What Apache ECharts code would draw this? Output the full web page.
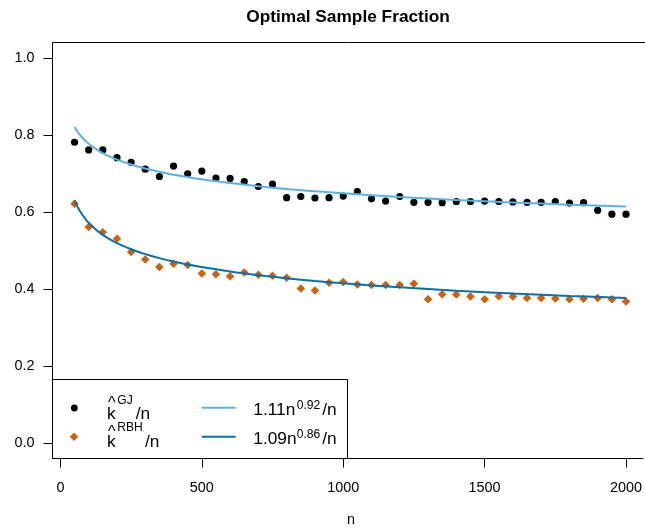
<!DOCTYPE html>
<html>
<head>
<meta charset="utf-8">
<script src="https://cdn.jsdelivr.net/npm/echarts@6/dist/echarts.min.js"></script>
<style>html,body{margin:0;padding:0;background:#fff;}#c{width:645px;height:531px;}</style>
</head>
<body>
<div id="c"></div>
<script>
// ---- data ----
const nValues = [50,100,150,200,250,300,350,400,450,500,550,600,650,700,750,800,850,900,950,1000,
  1050,1100,1150,1200,1250,1300,1350,1400,1450,1500,1550,1600,1650,1700,1750,1800,1850,1900,1950,2000];
const gjValues = [0.782,0.762,0.762,0.742,0.730,0.712,0.693,0.720,0.700,0.707,
  0.689,0.688,0.680,0.667,0.673,0.638,0.641,0.637,0.638,0.642,
  0.654,0.635,0.629,0.641,0.626,0.626,0.625,0.628,0.628,0.629,
  0.628,0.627,0.626,0.626,0.628,0.624,0.625,0.605,0.595,0.595];
const rbhValues = [0.622,0.562,0.548,0.531,0.497,0.477,0.458,0.466,0.463,0.441,
  0.439,0.434,0.4435,0.4375,0.435,0.430,0.402,0.397,0.417,0.419,
  0.412,0.411,0.411,0.411,0.414,0.374,0.387,0.386,0.381,0.374,
  0.382,0.381,0.377,0.377,0.376,0.374,0.375,0.377,0.374,0.368];
// fitted curves, values
const fitN = [50,60,70,80,90,100,125,150,175,200,250,300,350,400,500,600,700,800,900,1000,1200,1400,1600,1800,2000];
const fitGJ = [0.8218,0.8100,0.8003,0.7919,0.7846,0.7781,0.7646,0.7537,0.7446,0.7368,0.7240,0.7137,0.7051,
  0.6977,0.6856,0.6758,0.6676,0.6607,0.6546,0.6492,0.6399,0.6322,0.6256,0.6198,0.6147];
const fitRBH = [0.6309,0.6151,0.6020,0.5909,0.5812,0.5727,0.5552,0.5412,0.5297,0.5199,0.5040,0.4913,0.4809,
  0.4720,0.4575,0.4460,0.4365,0.4285,0.4215,0.4153,0.4049,0.3962,0.3889,0.3826,0.3770];
const xTicks = [0,500,1000,1500,2000];
const yTicks = [0,0.2,0.4,0.6,0.8,1.0];

const FONT = '"Liberation Sans", Arial, Helvetica, sans-serif';
const C_GJ = '#000000', C_RBH = '#D55E00', C_FGJ = '#56B4E9', C_FRBH = '#0072B2';

const zip = (a, b) => a.map((v, i) => [v, b[i]]);

function txt(text, x, y, size, opts) {
  opts = opts || {};
  return {
    type: 'text', z: 101,
    style: {
      text: text, x: x, y: y,
      font: (opts.weight || 'normal') + ' ' + size + 'px ' + FONT,
      fill: '#000',
      textAlign: opts.align || 'left',
      textVerticalAlign: 'middle'
    }
  };
}

const L = 17.3, S = 12.1; // legend font sizes (normal, superscript)

const chart = echarts.init(document.getElementById('c'), null, {renderer: 'canvas'});
chart.setOption({
  animation: false,
  backgroundColor: '#fff',
  grid: {left: 52.5, right: 0, top: 43, bottom: 72.5, show: false},
  xAxis: {
    type: 'value', min: -28, max: 2060,
    axisLine: {show: true, onZero: false, lineStyle: {color: '#000', width: 1}},
    splitLine: {show: false},
    axisTick: {show: true, inside: false, length: 9, customValues: xTicks, lineStyle: {color: '#000', width: 1}},
    axisLabel: {customValues: xTicks, fontSize: 14.4, fontFamily: FONT, color: '#000', margin: 22.5,
                formatter: v => String(v)}
  },
  yAxis: {
    type: 'value', min: -0.04, max: 1.04,
    axisLine: {show: true, onZero: false, lineStyle: {color: '#000', width: 1}},
    splitLine: {show: false},
    axisTick: {show: true, inside: false, length: 9, customValues: yTicks, lineStyle: {color: '#000', width: 1}},
    axisLabel: {customValues: yTicks, fontSize: 14.4, fontFamily: FONT, color: '#000', margin: 18,
                formatter: v => v.toFixed(1)}
  },
  series: [
    {type: 'scatter', data: zip(nValues, gjValues), symbol: 'circle', symbolSize: 7.2,
     itemStyle: {color: C_GJ, opacity: 1}, z: 2},
    {type: 'scatter', data: zip(nValues, rbhValues), symbol: 'diamond', symbolSize: 8.5,
     itemStyle: {color: C_RBH, opacity: 1}, z: 2},
    {type: 'line', data: zip(fitN, fitGJ), showSymbol: false, smooth: 0.3,
     lineStyle: {color: C_FGJ, width: 2}, z: 3},
    {type: 'line', data: zip(fitN, fitRBH), showSymbol: false, smooth: 0.3,
     lineStyle: {color: C_FRBH, width: 2}, z: 3}
  ],
  graphic: [
    {type: 'line', z: 100, shape: {x1: 52.5, y1: 42.5, x2: 645, y2: 42.5},
     style: {stroke: '#000', lineWidth: 1}},
    txt('Optimal Sample Fraction', 348, 17.6, 17.3, {weight: 'bold', align: 'center'}),
    txt('n', 351, 520.5, 14.4, {align: 'center'}),
    {type: 'rect', z: 100, shape: {x: 52.5, y: 379.5, width: 295, height: 79},
     style: {fill: '#fff', stroke: '#000', lineWidth: 1}},
    {type: 'circle', z: 101, shape: {cx: 74.3, cy: 408, r: 3.4}, style: {fill: C_GJ}},
    {type: 'polygon', z: 101, shape: {points: [[74, 432.5], [78.2, 436.7], [74, 440.9], [69.8, 436.7]]},
     style: {fill: C_RBH}},
    {type: 'line', z: 101, shape: {x1: 201.7, y1: 407.7, x2: 235.7, y2: 407.7},
     style: {stroke: C_FGJ, lineWidth: 2}},
    {type: 'line', z: 101, shape: {x1: 201.7, y1: 436.7, x2: 235.7, y2: 436.7},
     style: {stroke: C_FRBH, lineWidth: 2}},
    // row 1 left: k-hat^GJ / n
    txt('k', 107, 414, L),
    txt('^', 111.8, 403.5, 16, {align: 'center'}),
    txt('GJ', 117.3, 401, S),
    txt('/n', 135.7, 414, L),
    // row 2 left: k-hat^RBH / n
    txt('k', 107, 442.3, L),
    txt('^', 111.8, 432.5, 16, {align: 'center'}),
    txt('RBH', 117.3, 427.3, S),
    txt('/n', 145, 442.3, L),
    // right column
    txt('1.11n', 253.3, 410, L),
    txt('0.92', 296.7, 405.5, S),
    txt('/n', 322.3, 410, L),
    txt('1.09n', 253.3, 439, L),
    txt('0.86', 296.7, 434.5, S),
    txt('/n', 322.3, 439, L)
  ]
});
</script>
</body>
</html>
